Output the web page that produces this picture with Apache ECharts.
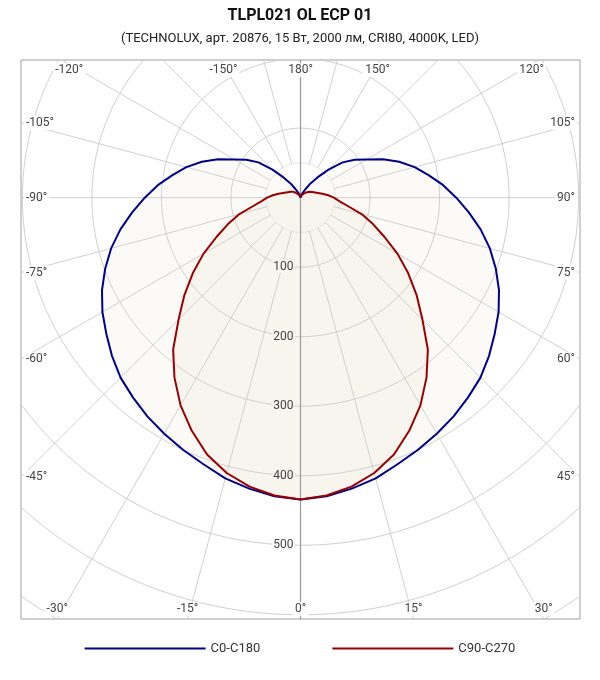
<!DOCTYPE html>
<html>
<head>
<meta charset="utf-8">
<title>TLPL021 OL ECP 01</title>
<script src="https://cdn.jsdelivr.net/npm/echarts@6/dist/echarts.min.js"></script>
<style>
  html, body { margin: 0; padding: 0; background: #fff; }
  #chart { width: 600px; height: 680px; }
</style>
</head>
<body>
<div id="chart"></div>
<script>
// Углы гамма (град), шаг 5°
const gammaAngles = [0, 5, 10, 15, 20, 25, 30, 35, 40, 45, 50, 55, 60, 65, 70, 75, 80, 85, 90,
  95, 100, 105, 110, 115, 120, 125, 130, 135, 140, 145, 150, 155, 160, 165, 170, 175, 180];

// Сила света, кд (плоскость C0-C180)
const c0c180 = [434, 431, 425, 418, 408, 400, 392, 384, 375, 366, 354, 341, 329, 315, 299, 282, 263, 243, 224,
  206, 187, 170, 151, 131, 110, 95, 79, 57, 38, 25, 14, 8, 4, 2, 1, 0, 0];

// Сила света, кд (плоскость C90-C270)
const c90c270 = [434, 430, 422, 410, 393, 370, 345, 316, 285, 248, 218, 189, 161, 133, 111, 91, 69, 56, 48,
  40, 32, 26, 22, 19, 17, 15, 13, 10, 8, 6, 5, 4, 3, 2, 1, 0, 0];

// Сетка: окружности и лучи
const ringValues = [100, 200, 300, 400, 500, 600, 700];
const innerRing = 50;
const ringLabels = [100, 200, 300, 400, 500];
const spokeAngles = [-165, -150, -135, -120, -105, -90, -75, -60, -45, -30, -15,
  15, 30, 45, 60, 75, 90, 105, 120, 135, 150, 165];
const angleLabels = [-120, -150, 180, 150, 120, -105, -90, -75, -60, -45,
  105, 90, 75, 60, 45, -30, -15, 0, 15, 30];

// Границы области построения (кд)
const xMin = -402, xMax = 402, yMin = -606, yMax = 198;

const blueColor = "#000088";
const redColor = "#990000";
const outerFill = "#fbfaf7";
const innerFill = "#f8f5ef";
const gridColor = "#d0d0d0";
const labelFont = "12px Roboto";

const rad = d => d * Math.PI / 180;

// Точка по углу гамма (0° вниз, 90° вправо) и силе света
function polarPoint(angle, value) {
  return [value * Math.sin(rad(angle)), -value * Math.cos(rad(angle))];
}

// Замкнутая кривая: правая половина 0..180, левая 180..0
function curvePoints(values) {
  const pts = [];
  gammaAngles.forEach((g, i) => pts.push(polarPoint(g, values[i])));
  for (let i = gammaAngles.length - 1; i >= 0; i--) {
    pts.push(polarPoint(-gammaAngles[i], values[i]));
  }
  return pts;
}

const bluePts = curvePoints(c0c180);
const redPts = curvePoints(c90c270);

const chart = echarts.init(document.getElementById("chart"));

function fillSeries(pts, color, z) {
  return {
    type: "custom",
    clip: true,
    silent: true,
    z: z,
    data: [[0, 0]],
    renderItem: (params, api) => ({
      type: "polygon",
      shape: { points: pts.map(p => api.coord(p)) },
      style: { fill: color, stroke: "none" }
    })
  };
}

function ringShape(api, r, color) {
  const pts = [];
  for (let a = 0; a <= 360; a += 2) pts.push(api.coord(polarPoint(a, r)));
  return { type: "polyline", shape: { points: pts }, style: { stroke: color, fill: "none", lineWidth: 1 } };
}

// Подпись угла у края рамки
function angleLabel(api, angle) {
  const dx = Math.sin(rad(angle)), dy = -Math.cos(rad(angle));
  const inset = 6;
  let t = Infinity, edge = null;
  if (dx > 1e-9 && xMax / dx < t) { t = xMax / dx; edge = "right"; }
  if (dx < -1e-9 && xMin / dx < t) { t = xMin / dx; edge = "left"; }
  if (dy > 1e-9 && yMax / dy < t) { t = yMax / dy; edge = "top"; }
  if (dy < -1e-9 && yMin / dy < t) { t = yMin / dy; edge = "bottom"; }
  const topLeft = api.coord([xMin, yMax]);
  const botRight = api.coord([xMax, yMin]);
  let x, y, align = "center";
  if (edge === "top") {
    const tt = (yMax - inset) / dy;
    x = api.coord([tt * dx, 0])[0];
    y = topLeft[1] + 10;
  } else if (edge === "bottom") {
    x = api.coord([t * dx, 0])[0];
    y = botRight[1] - 10;
  } else if (edge === "left") {
    x = topLeft[0] + 3;
    y = api.coord([0, t * dy])[1];
    align = "left";
  } else {
    x = botRight[0] - 3;
    y = api.coord([0, t * dy])[1];
    align = "right";
  }
  return {
    type: "text",
    x: x, y: y,
    style: {
      text: angle + "°", fill: "#444", font: labelFont,
      align: align, verticalAlign: "middle",
      backgroundColor: "#fff", padding: [1, 2]
    }
  };
}

const option = {
  animation: false,
  backgroundColor: "#fff",
  title: {
    text: "TLPL021 OL ECP 01",
    subtext: "(TECHNOLUX, арт. 20876, 15 Вт, 2000 лм, CRI80, 4000K, LED)",
    left: "center",
    top: 8,
    padding: 0,
    itemGap: 8,
    textStyle: { fontFamily: "Roboto", fontSize: 16, fontWeight: "bold", color: "#111" },
    subtextStyle: { fontFamily: "Roboto", fontSize: 13, color: "#222" }
  },
  legend: {
    data: ["C0-C180", "C90-C270"],
    left: "center",
    top: 637,
    icon: "rect",
    itemWidth: 121,
    itemHeight: 2,
    itemGap: 72,
    textStyle: { fontFamily: "Roboto", fontSize: 13, color: "#333" }
  },
  grid: {
    left: 21, top: 60, width: 559, height: 559,
    show: true, borderColor: "#a0a0a0", borderWidth: 1, backgroundColor: "transparent"
  },
  xAxis: { type: "value", min: xMin, max: xMax, show: false },
  yAxis: { type: "value", min: yMin, max: yMax, show: false },
  series: [
    fillSeries(bluePts, outerFill, 1),
    fillSeries(redPts, innerFill, 2),
    {
      // окружности сетки
      type: "custom",
      clip: true, silent: true, z: 3,
      data: ringValues.map(r => [r, 0]),
      renderItem: (params, api) => ringShape(api, ringValues[params.dataIndex], gridColor)
    },
    {
      // внутренняя окружность
      type: "custom",
      clip: true, silent: true, z: 3,
      data: [[innerRing, 0]],
      renderItem: (params, api) => ringShape(api, innerRing, "#e6e4e0")
    },
    {
      // лучи
      type: "custom",
      clip: true, silent: true, z: 3,
      data: spokeAngles.map(a => [a, 0]),
      renderItem: (params, api) => {
        const a = spokeAngles[params.dataIndex];
        const p1 = api.coord(polarPoint(a, innerRing));
        const p2 = api.coord(polarPoint(a, 1000));
        return {
          type: "line",
          shape: { x1: p1[0], y1: p1[1], x2: p2[0], y2: p2[1] },
          style: { stroke: gridColor, lineWidth: 1 }
        };
      }
    },
    {
      // ось 0°-180°
      type: "custom",
      clip: true, silent: true, z: 4,
      data: [[0, 0]],
      renderItem: (params, api) => {
        const p1 = api.coord([0, yMin]);
        const p2 = api.coord([0, yMax]);
        return {
          type: "line",
          shape: { x1: p1[0], y1: p1[1], x2: p2[0], y2: p2[1] },
          style: { stroke: "#999", lineWidth: 1.2 }
        };
      }
    },
    {
      name: "C0-C180",
      type: "line",
      z: 6,
      data: bluePts,
      symbol: "none",
      color: blueColor,
      lineStyle: { color: blueColor, width: 2 }
    },
    {
      name: "C90-C270",
      type: "line",
      z: 7,
      data: redPts,
      symbol: "none",
      color: redColor,
      lineStyle: { color: redColor, width: 2 }
    },
    {
      // подписи окружностей
      type: "custom",
      silent: true, z: 8,
      data: ringLabels.map(v => [0, -v]),
      renderItem: (params, api) => {
        const v = ringLabels[params.dataIndex];
        const p = api.coord([0, -v]);
        return {
          type: "text",
          x: p[0] - 6, y: p[1],
          style: {
            text: String(v), fill: "#444", font: labelFont,
            align: "right", verticalAlign: "middle",
            backgroundColor: v < c90c270[0] ? innerFill : "#fff", padding: [0, 1]
          }
        };
      }
    },
    {
      // подписи углов
      type: "custom",
      silent: true, z: 9,
      data: angleLabels.map(a => [a, 0]),
      renderItem: (params, api) => angleLabel(api, angleLabels[params.dataIndex])
    }
  ]
};

chart.setOption(option);
window.addEventListener("resize", () => chart.resize());
</script>
</body>
</html>
